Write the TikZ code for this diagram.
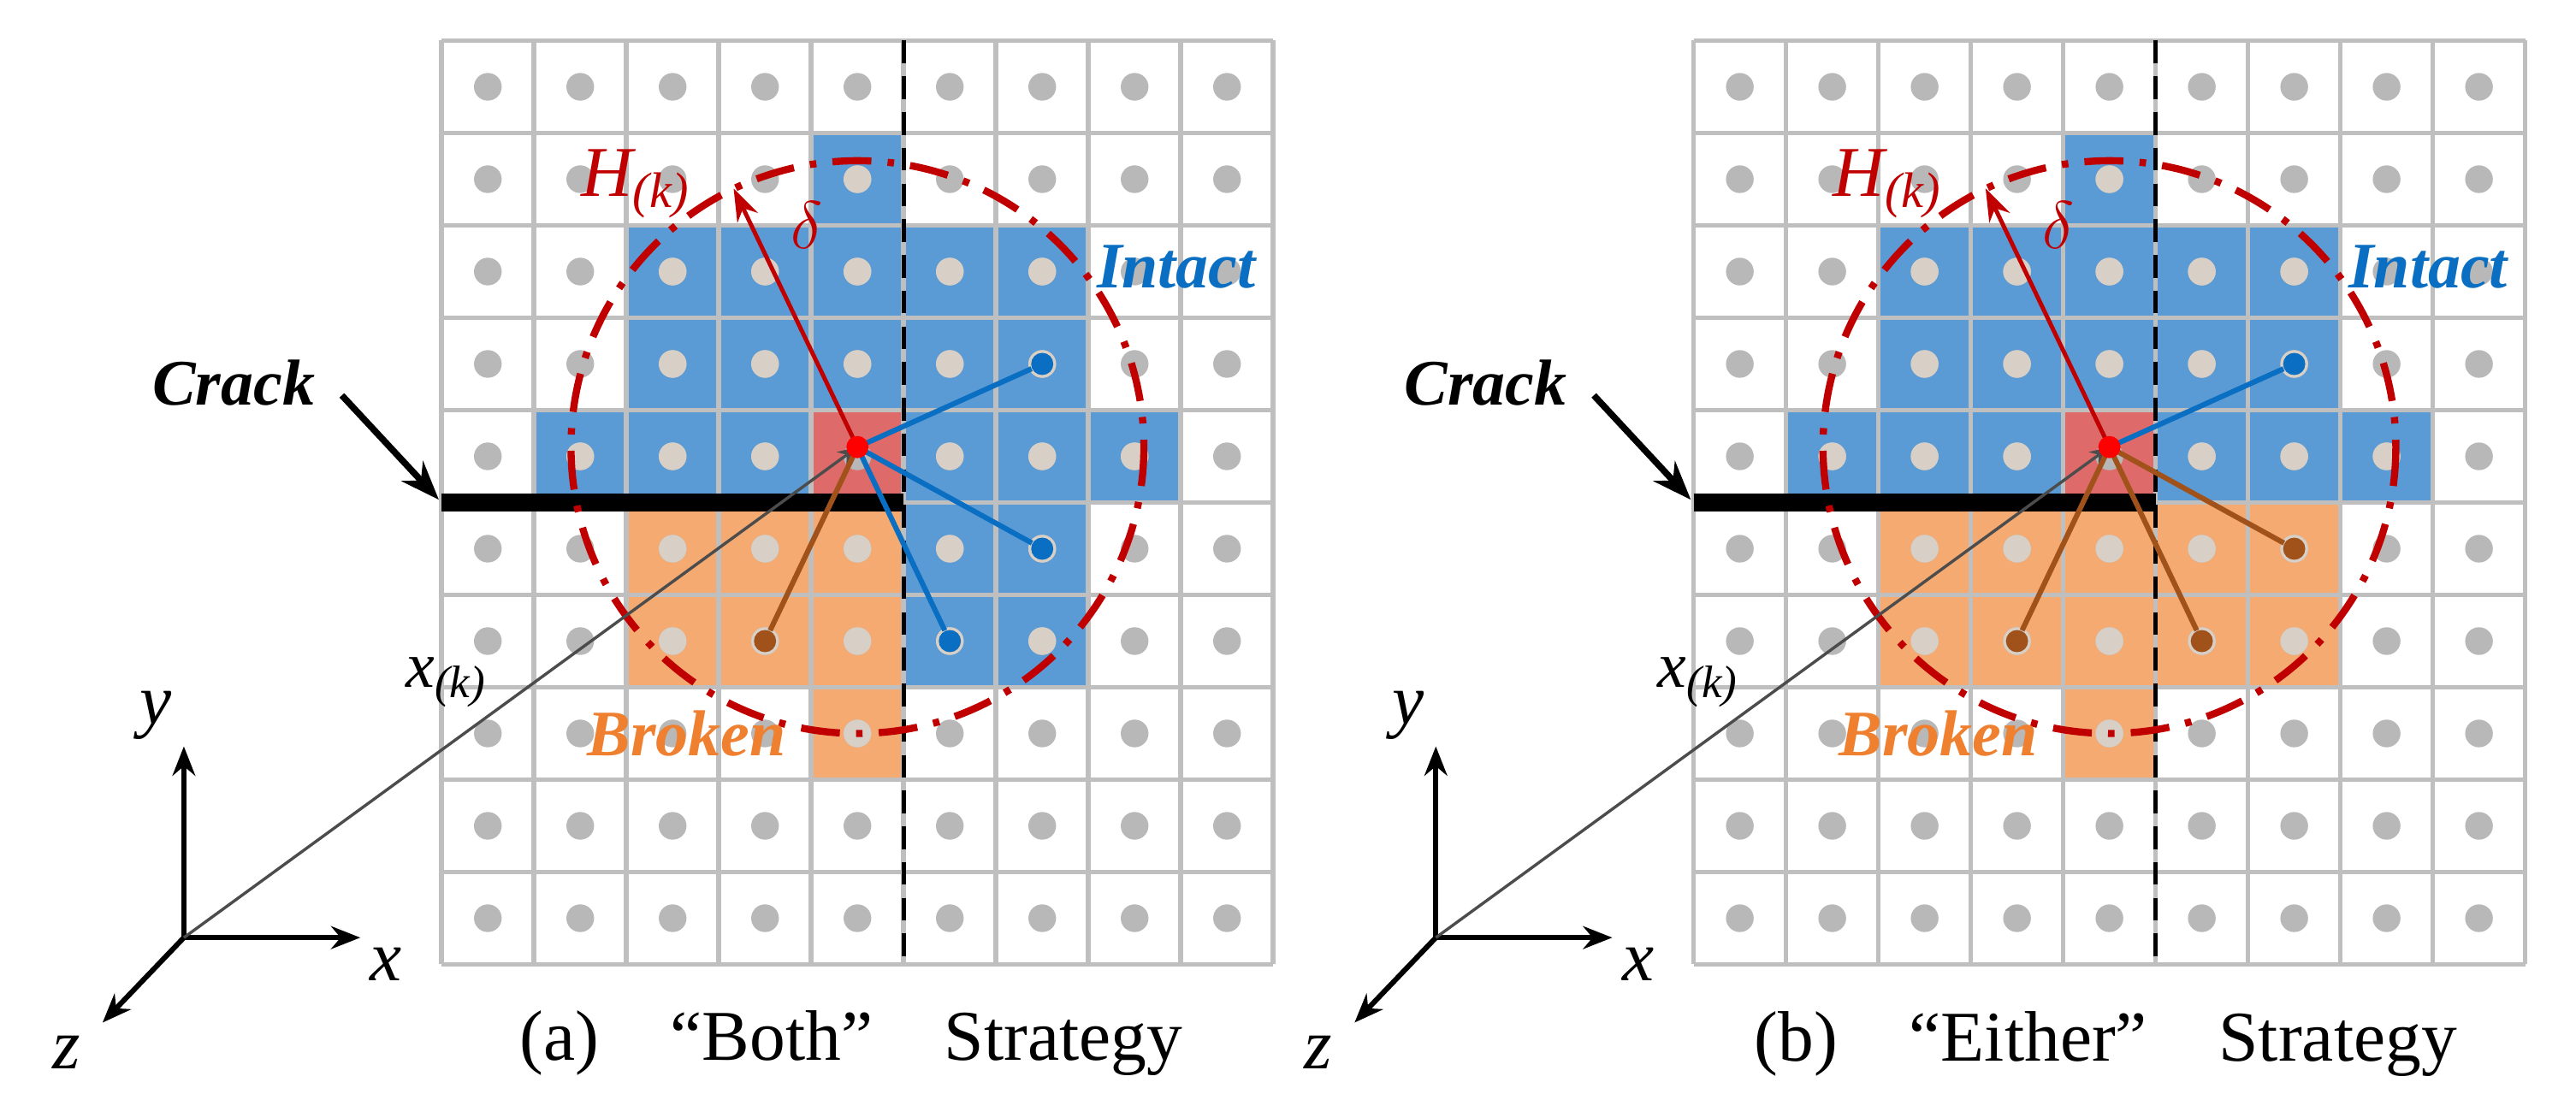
\documentclass[tikz,border=0pt]{standalone}
\usepackage{fontspec}
\setmainfont{Liberation Serif}
\usetikzlibrary{arrows.meta}
\definecolor{blueC}{HTML}{5B9BD5}
\definecolor{orangeC}{HTML}{F4AA70}
\definecolor{redC}{HTML}{DE6A6A}
\definecolor{gridC}{HTML}{BFBFBF}
\definecolor{dotC}{HTML}{B8B8B8}
\definecolor{dotL}{HTML}{D8D0C6}
\definecolor{bondB}{HTML}{0A6FC2}
\definecolor{bondO}{HTML}{A0521A}
\definecolor{circC}{HTML}{C00000}
\definecolor{brkC}{HTML}{EE8030}
\tikzset{
  gridline/.style={gridC, line width=1.5pt},
  bondb/.style={bondB, line width=1.6pt},
  bondo/.style={bondO, line width=1.6pt},
  endb/.style={circle, fill=bondB, inner sep=0pt, minimum size=0.24cm},
  endo/.style={circle, fill=bondO, inner sep=0pt, minimum size=0.24cm},
  hcircle/.style={circC, line width=2.2pt, dash pattern=on 12pt off 5pt on 2pt off 5pt},
  axis/.style={black, line width=1.6pt, -{Stealth[length=9pt,width=7pt]}},
  lbl/.style={font=\fontsize{20}{22}\selectfont\itshape\bfseries},
  captxt/.style={font=\fontsize{22}{24}\selectfont}
}
\newcommand{\gridpanel}[2]{%
  \fill[blueC] (4,1) rectangle (5,2);
  \fill[blueC] (2,2) rectangle (7,4);
  \fill[blueC] (1,4) rectangle (8,5);
  \fill[redC] (4,4) rectangle (5,5);
  \fill[orangeC] (2,5) rectangle (#2,7);
  \fill[blueC] (#2,5) rectangle (7,7);
  \fill[orangeC] (4,7) rectangle (5,8);
  \draw[gridline] (0,0) grid (9,10);
  \foreach \i in {0,...,8}{\foreach \j in {0,...,9}{
    \fill[dotC] (\i+0.5,\j+0.5) circle (0.15);}}
  \foreach \p in {(4.5,1.5),(2.5,2.5),(3.5,2.5),(4.5,2.5),(5.5,2.5),(6.5,2.5),
    (2.5,3.5),(3.5,3.5),(4.5,3.5),(5.5,3.5),(6.5,3.5),(1.5,4.5),(2.5,4.5),(3.5,4.5),
    (5.5,4.5),(6.5,4.5),(7.5,4.5),(2.5,5.5),(3.5,5.5),(4.5,5.5),(5.5,5.5),(6.5,5.5),
    (2.5,6.5),(3.5,6.5),(4.5,6.5),(5.5,6.5),(6.5,6.5),(4.5,7.5)}{
    \fill[dotL] \p circle (0.15);}
  \draw[black, line width=1.4pt, dash pattern=on 7pt off 4pt] (5,0) -- (5,10);
  \draw[black, line width=5.5pt] (0,5) -- (5,5);
  \coordinate (#1c) at (4.5,4.4);
  \draw[hcircle] (#1c) circle (3.1);
  \coordinate (#1O) at (-2.79,9.71);
  \coordinate (#1Y) at (-2.79,7.64);
  \coordinate (#1X) at (-0.88,9.71);
  \coordinate (#1Z) at (-3.67,10.63);
  \draw[axis] (#1O) -- (#1Y);
  \draw[axis] (#1O) -- (#1X);
  \draw[axis] (#1O) -- (#1Z);
  \node[font=\fontsize{22}{24}\selectfont\itshape] (#1ly) at (-3.09,7.3) {y};
  \node[font=\fontsize{22}{24}\selectfont\itshape] (#1lx) at (-0.6,10.0) {x};
  \node[font=\fontsize{22}{24}\selectfont\itshape] (#1lz) at (-4.06,10.95) {z};
  \draw[black!70, line width=0.9pt, -{Stealth[length=6pt,width=5pt]}] (#1O) -- (#1c);
  \node[font=\fontsize{20}{22}\selectfont\itshape] (#1xk) at (0.05,6.95) {x\textsubscript{(\textit{k})}};
  \node[lbl] (#1crack) at (-2.25,3.7) {Crack};
  \coordinate (#1ct) at (-0.03,4.97);
  \draw[black, line width=2pt, -{Stealth[length=12pt,width=9pt]}] (-1.08,3.84) -- (#1ct);
  \coordinate (#1tip) at (3.16,1.6);
  \draw[circC, line width=1.3pt, -{Stealth[length=10pt,width=7pt]}] (#1c) -- (#1tip);
  \node[circC, font=\fontsize{22}{24}\selectfont\itshape] (#1H) at (2.1,1.55) {H\textsubscript{(\textit{k})}};
  \node[circC, font=\fontsize{22}{24}\selectfont\itshape] (#1d) at (3.95,2.0) {$\delta$};
  \node[bondB, lbl] (#1int) at (7.95,2.45) {Intact};
  \node[brkC, lbl] (#1brk) at (2.65,7.5) {Broken};
}
\begin{document}
\begin{tikzpicture}
\useasboundingbox (0,0) rectangle (27.88,11.84);
% panel (a)
\begin{scope}[shift={(4.78,11.40)}, yscale=-1]
  \gridpanel{a}{5}
  \node[endb] (ab1) at (6.5,3.5) {};
  \node[endb] (ab2) at (6.5,5.5) {};
  \node[endb] (ab3) at (5.5,6.5) {};
  \node[endo] (ao1) at (3.5,6.5) {};
  \draw[bondb] (ac) -- (ab1);
  \draw[bondb] (ac) -- (ab2);
  \draw[bondb] (ac) -- (ab3);
  \draw[bondo] (ac) -- (ao1);
  \fill[red] (ac) circle (0.12);
  \node[captxt] (acap) at (4.43,10.85) {(a)\quad“Both”\quad Strategy};
\end{scope}
% panel (b)
\begin{scope}[shift={(18.33,11.40)}, yscale=-1]
  \gridpanel{b}{7}
  \node[endb] (bb1) at (6.5,3.5) {};
  \node[endo] (bo1) at (6.5,5.5) {};
  \node[endo] (bo2) at (5.5,6.5) {};
  \node[endo] (bo3) at (3.5,6.5) {};
  \draw[bondb] (bc) -- (bb1);
  \draw[bondo] (bc) -- (bo1);
  \draw[bondo] (bc) -- (bo2);
  \draw[bondo] (bc) -- (bo3);
  \fill[red] (bc) circle (0.12);
  \node[captxt] (bcap) at (4.46,10.86) {(b)\quad“Either”\quad Strategy};
\end{scope}
\end{tikzpicture}
\end{document}
